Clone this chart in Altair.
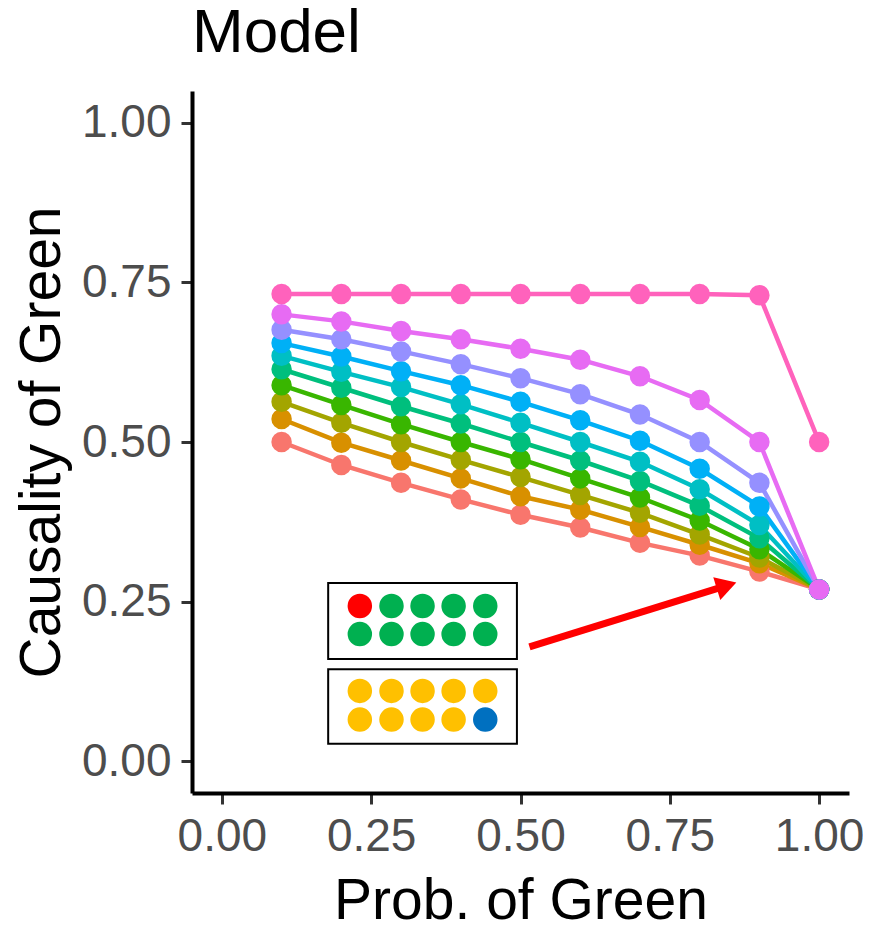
import altair as alt
import pandas as pd

# ---- data ----
xs = [0.1, 0.2, 0.3, 0.4, 0.5, 0.6, 0.7, 0.8, 0.9, 1.0]
series_names = ["s01", "s02", "s03", "s04", "s05", "s06", "s07", "s08", "s09", "s10"]
series_colors = ["#F8766D", "#D89000", "#A3A500", "#39B600", "#00BF7D",
                 "#00BFC4", "#00B0F6", "#9590FF", "#E76BF3", "#FF62BC"]
s01 = [0.500, 0.464, 0.436, 0.410, 0.386, 0.366, 0.342, 0.322, 0.297, 0.269]
s02 = [0.536, 0.499, 0.471, 0.443, 0.415, 0.394, 0.367, 0.339, 0.310, 0.269]
s03 = [0.563, 0.530, 0.500, 0.472, 0.445, 0.417, 0.389, 0.355, 0.319, 0.269]
s04 = [0.589, 0.558, 0.528, 0.500, 0.473, 0.443, 0.413, 0.377, 0.332, 0.269]
s05 = [0.614, 0.585, 0.556, 0.529, 0.500, 0.471, 0.439, 0.400, 0.349, 0.269]
s06 = [0.635, 0.610, 0.586, 0.559, 0.530, 0.500, 0.469, 0.426, 0.370, 0.269]
s07 = [0.655, 0.634, 0.611, 0.589, 0.563, 0.534, 0.502, 0.458, 0.399, 0.269]
s08 = [0.676, 0.661, 0.642, 0.622, 0.600, 0.575, 0.543, 0.500, 0.436, 0.269]
s09 = [0.700, 0.689, 0.674, 0.661, 0.646, 0.629, 0.603, 0.566, 0.500, 0.269]
s10 = [0.732, 0.732, 0.732, 0.732, 0.732, 0.732, 0.732, 0.732, 0.730, 0.500]
series_values = [s01, s02, s03, s04, s05, s06, s07, s08, s09, s10]

axis_ticks = [0.0, 0.25, 0.5, 0.75, 1.0]

# inset annotation (data coordinates)
box_x = [0.178, 0.178]
box_x2 = [0.494, 0.494]
box_y = [0.160, 0.027]
box_y2 = [0.279, 0.144]
dot_cols = [0.231, 0.284, 0.336, 0.388, 0.441]
dot_rows = [0.243, 0.199, 0.110, 0.065]
RED, GRN, YEL, BLU = "#FF0000", "#00B050", "#FFC000", "#0070C0"
dot_colors = [
    [RED, GRN, GRN, GRN, GRN],
    [GRN, GRN, GRN, GRN, GRN],
    [YEL, YEL, YEL, YEL, YEL],
    [YEL, YEL, YEL, YEL, BLU],
]
arrow_start = [0.515, 0.179]
arrow_end = [0.845, 0.275]

# ---- tables ----
rows = []
for name, vals in zip(series_names, series_values):
    for x, v in zip(xs, vals):
        rows.append({"x": x, "y": v, "series": name})
df = pd.DataFrame(rows)

boxes = pd.DataFrame({"x": box_x, "x2": box_x2, "y": box_y, "y2": box_y2})
dots = pd.DataFrame([
    {"x": cx, "y": ry, "c": dot_colors[i][j]}
    for i, ry in enumerate(dot_rows) for j, cx in enumerate(dot_cols)
])
arrow = pd.DataFrame({"x": [arrow_start[0]], "y": [arrow_start[1]],
                      "x2": [arrow_end[0]], "y2": [arrow_end[1]]})
head = pd.DataFrame({"x": [arrow_end[0]], "y": [arrow_end[1]]})

FONT = "Liberation Sans"
xscale = alt.Scale(domain=[-0.05, 1.05], nice=False, zero=False)
yscale = alt.Scale(domain=[-0.05, 1.05], nice=False, zero=False)
xaxis = alt.Axis(title="Prob. of Green", values=axis_ticks, format=".2f")
yaxis = alt.Axis(title="Causality of Green", values=axis_ticks, format=".2f", titlePadding=10)
color = alt.Color("series:N", scale=alt.Scale(domain=series_names, range=series_colors), legend=None)

base = alt.Chart(df)
lines = base.mark_line(strokeWidth=4.5).encode(
    x=alt.X("x:Q", scale=xscale, axis=xaxis),
    y=alt.Y("y:Q", scale=yscale, axis=yaxis),
    color=color,
    detail="series:N",
)
points = base.mark_circle(size=420, opacity=1).encode(
    x="x:Q", y="y:Q", color=color
)
rects = alt.Chart(boxes).mark_rect(fill="white", stroke="black", strokeWidth=2).encode(
    x="x:Q", x2="x2:Q", y="y:Q", y2="y2:Q"
)
inset_dots = alt.Chart(dots).mark_circle(size=600, opacity=1).encode(
    x="x:Q", y="y:Q", color=alt.Color("c:N", scale=None)
)
shaft = alt.Chart(arrow).mark_rule(color="#FF0000", strokeWidth=7).encode(
    x="x:Q", y="y:Q", x2="x2:Q", y2="y2:Q"
)
arrowhead = alt.Chart(head).mark_point(
    shape="triangle-up", filled=True, color="#FF0000", size=560, angle=72.7, opacity=1
).encode(x="x:Q", y="y:Q")

chart = alt.layer(lines, points, rects, inset_dots, shaft, arrowhead).properties(
    width=657,
    height=702,
    title=alt.TitleParams("Model", anchor="start", frame="group", fontSize=62, font=FONT,
                          fontWeight="normal", color="black", offset=26),
    autosize=alt.AutoSizeParams(type="none"),
    padding={"left": 184, "top": 83, "right": 14, "bottom": 136},
).configure_view(stroke=None).configure_axis(
    grid=False,
    domainColor="black",
    domainWidth=4,
    tickColor="#333333",
    tickWidth=3,
    tickSize=11,
    labelFont=FONT,
    labelFontSize=46,
    labelColor="#4D4D4D",
    labelPadding=10,
    titleFont=FONT,
    titleFontSize=57,
    titleFontWeight="normal",
    titleColor="black",
    titlePadding=14,
)

chart.save("out.html", embed_options={"renderer": "svg", "actions": False})
